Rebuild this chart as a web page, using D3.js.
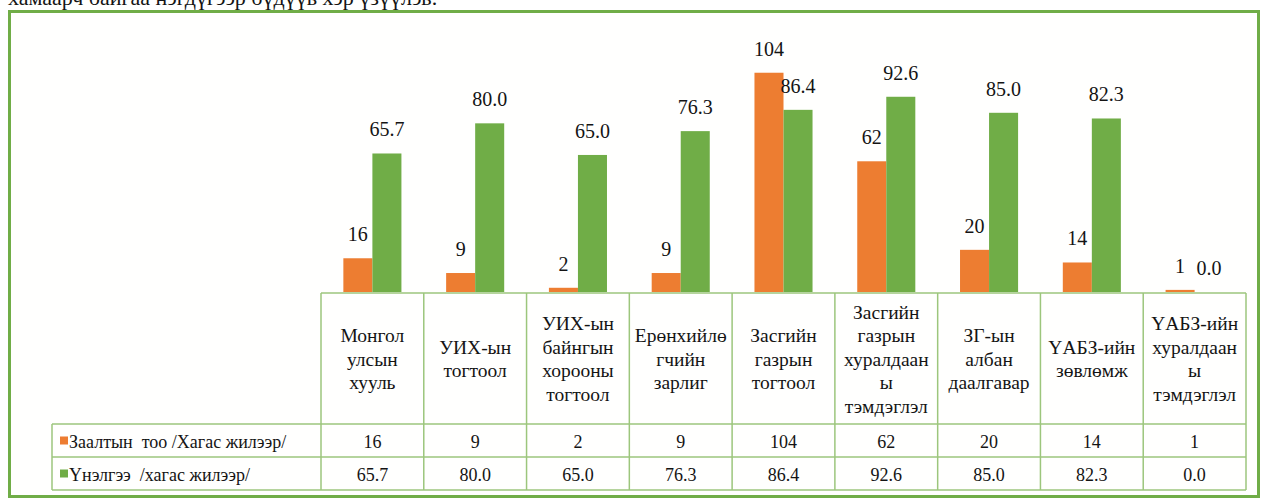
<!DOCTYPE html>
<html>
<head>
<meta charset="utf-8">
<script src="https://cdn.jsdelivr.net/npm/d3@7"></script>
</head>
<body style="margin:0">
<svg id="fig" width="1264" height="500" style="display:block"></svg>
<script>
// ---------- data ----------
const categories = [
  "Монгол улсын хууль",
  "УИХ-ын тогтоол",
  "УИХ-ын байнгын хорооны тогтоол",
  "Ерөнхийлөгчийн зарлиг",
  "Засгийн газрын тогтоол",
  "Засгийн газрын хуралдааны тэмдэглэл",
  "ЗГ-ын албан даалгавар",
  "ҮАБЗ-ийн зөвлөмж",
  "ҮАБЗ-ийн хуралдааны тэмдэглэл"
];
const categoryLines = [
  ["Монгол", "улсын", "хууль"],
  ["УИХ-ын", "тогтоол"],
  ["УИХ-ын", "байнгын", "хорооны", "тогтоол"],
  ["Ерөнхийлө", "гчийн", "зарлиг"],
  ["Засгийн", "газрын", "тогтоол"],
  ["Засгийн", "газрын", "хуралдаан", "ы", "тэмдэглэл"],
  ["ЗГ-ын", "албан", "даалгавар"],
  ["ҮАБЗ-ийн", "зөвлөмж"],
  ["ҮАБЗ-ийн", "хуралдаан", "ы", "тэмдэглэл"]
];
const seriesNames = ["Заалтын  тоо /Хагас жилээр/", "Үнэлгээ  /хагас жилээр/"];
const countValues = [16, 9, 2, 9, 104, 62, 20, 14, 1];
const scoreValues = [65.7, 80.0, 65.0, 76.3, 86.4, 92.6, 85.0, 82.3, 0.0];
const countLabels = ["16", "9", "2", "9", "104", "62", "20", "14", "1"];
const scoreLabels = ["65.7", "80.0", "65.0", "76.3", "86.4", "92.6", "85.0", "82.3", "0.0"];
const seriesColors = ["#ed7d31", "#70ad47"];
const captionText = "хамаарч байгаа нэгдүгээр бүдүүв хэр үзүүлэв.";

// ---------- layout ----------
const FONT = "Liberation Serif";
const svg = d3.select("#fig");
const W = 1264, H = 500;
const tableLeft = 52, colLeft = 321, tableRight = 1246;
const headerTop = 293, row1Top = 424, row2Top = 457, tableBottom = 490;
const plotTop = 39, plotBottom = 292;
const gridColor = "#9cc67c";
const textColor = "#141414";

function txt(sel) {
  return sel.attr("font-family", FONT).style("font-family", FONT).attr("fill", textColor);
}

svg.append("rect").attr("width", W).attr("height", H).attr("fill", "#ffffff");

// caption (cut off at the top, as in the source)
txt(svg.append("text"))
  .attr("x", 8).attr("y", 5)
  .attr("font-size", 22)
  .text(captionText);

// frame
svg.append("rect")
  .attr("x", 9.5).attr("y", 11.5)
  .attr("width", 1249).attr("height", 485)
  .attr("fill", "#fffffe")
  .attr("stroke", "#70ad47").attr("stroke-width", 3);

// scales
const x = d3.scaleBand().domain(categories).range([colLeft, tableRight]).padding(0);
const xs = d3.scaleBand().domain([0, 1]).range([0, x.bandwidth()]).paddingInner(0).paddingOuter(0.77);
const y = d3.scaleLinear().domain([0, 120]).range([plotBottom, plotTop]);

const rows = categories.map((c, i) => ({
  cat: c,
  vals: [countValues[i], scoreValues[i]],
  labels: [countLabels[i], scoreLabels[i]]
}));

const g = svg.append("g");
const groups = g.selectAll("g.cat").data(rows).join("g")
  .attr("class", "cat")
  .attr("transform", d => `translate(${x(d.cat)},0)`);

groups.selectAll("rect").data(d => d.vals.map((v, k) => ({ v, k }))).join("rect")
  .attr("x", d => xs(d.k))
  .attr("width", xs.bandwidth())
  .attr("y", d => y(d.v))
  .attr("height", d => y(0) - y(d.v))
  .attr("fill", d => seriesColors[d.k]);

txt(groups.selectAll("text.lbl").data(d => d.vals.map((v, k) => ({ v, k, t: d.labels[k] }))).join("text"))
  .attr("class", "lbl")
  .attr("x", d => xs(d.k) + xs.bandwidth() / 2)
  .attr("y", d => y(d.v) - 17)
  .attr("text-anchor", "middle")
  .attr("font-size", 20)
  .text(d => d.t);

// ---------- data table ----------
const tg = svg.append("g");
const lines = tg.append("g");
lines.append("line").attr("x1", colLeft).attr("x2", tableRight).attr("y1", headerTop).attr("y2", headerTop);
[row1Top, row2Top, tableBottom].forEach(yy => {
  lines.append("line").attr("x1", tableLeft).attr("x2", tableRight).attr("y1", yy).attr("y2", yy);
});
lines.append("line").attr("x1", tableLeft).attr("x2", tableLeft).attr("y1", row1Top).attr("y2", tableBottom);
categories.forEach(c => {
  lines.append("line").attr("x1", x(c)).attr("x2", x(c)).attr("y1", headerTop).attr("y2", tableBottom);
});
lines.append("line").attr("x1", tableRight).attr("x2", tableRight).attr("y1", headerTop).attr("y2", tableBottom);
lines.selectAll("line").attr("stroke", gridColor).attr("stroke-width", 1.5);

// header labels
const headerMid = (headerTop + row1Top) / 2;
const lineH = 23.5;
categories.forEach((c, i) => {
  const ls = categoryLines[i];
  const t = txt(tg.append("text"))
    .attr("text-anchor", "middle")
    .attr("font-size", 19.5);
  ls.forEach((ln, j) => {
    t.append("tspan")
      .attr("x", x(c) + x.bandwidth() / 2)
      .attr("y", headerMid + (j - (ls.length - 1) / 2) * lineH + 7)
      .text(ln);
  });
});

// row headers with legend keys
const rowTops = [row1Top, row2Top];
const rowH = row2Top - row1Top;
seriesNames.forEach((s, k) => {
  const cy = rowTops[k] + rowH / 2;
  tg.append("rect").attr("x", 60).attr("y", cy - 4).attr("width", 8).attr("height", 8).attr("fill", seriesColors[k]);
  txt(tg.append("text")).attr("x", 69).attr("y", cy + 7)
    .attr("font-size", 18)
    .style("white-space", "pre")
    .text(s);
});

// values
const valueLabels = [countLabels, scoreLabels];
valueLabels.forEach((arr, k) => {
  const cy = rowTops[k] + rowH / 2;
  arr.forEach((v, i) => {
    txt(tg.append("text"))
      .attr("x", x(categories[i]) + x.bandwidth() / 2)
      .attr("y", cy + 7)
      .attr("text-anchor", "middle")
      .attr("font-size", 18)
      .text(v);
  });
});
</script>
</body>
</html>
